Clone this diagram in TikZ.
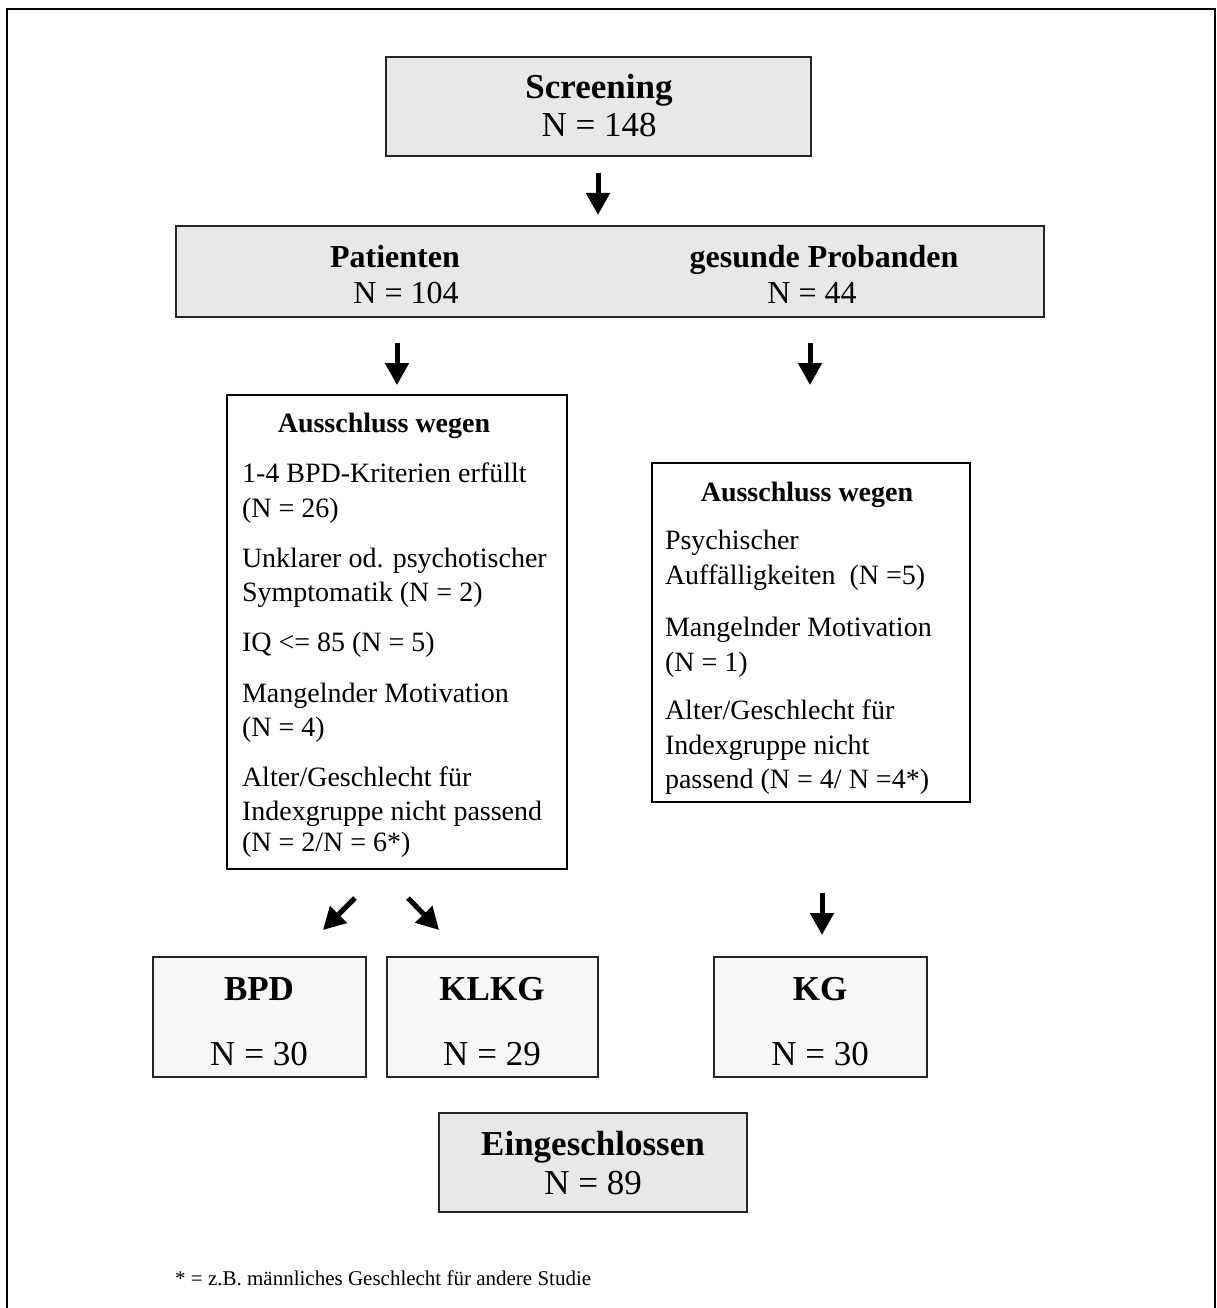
\documentclass[tikz,border=0pt]{standalone}
\usepackage{fontspec}
\setmainfont{Liberation Serif}
\usetikzlibrary{arrows.meta}
\definecolor{boxgrey}{HTML}{E8E8E8}
\definecolor{boxlight}{HTML}{F7F7F7}
\begin{document}
\begin{tikzpicture}[x=1pt,y=-1pt,
  box/.style={draw=black!85, line width=1.4pt, anchor=north west, inner sep=0pt, outer sep=0pt},
  txt/.style={inner sep=0pt, outer sep=0pt, anchor=base},
  ltxt/.style={inner sep=0pt, outer sep=0pt, anchor=base west, font=\fontsize{28}{35}\selectfont},
  big/.style={font=\fontsize{35}{42}\selectfont},
  bigb/.style={font=\fontsize{35}{42}\selectfont\bfseries},
  mid/.style={font=\fontsize{32}{38}\selectfont},
  midb/.style={font=\fontsize{32}{38}\selectfont\bfseries},
  headb/.style={font=\fontsize{28}{35}\selectfont\bfseries},
  fatarrow/.style={line width=5pt, -{Triangle[width=23pt,length=22pt]}}
]
\useasboundingbox (0,0) rectangle (1217,1308);

% outer frame, open at the bottom
\draw[line width=2pt, line join=miter] (7,1308) -- (7,9) -- (1215,9) -- (1215,1308);

% boxes
\node[box, fill=boxgrey, minimum width=425pt, minimum height=99pt] (screen) at (386,57) {};
\node[box, fill=boxgrey, minimum width=868pt, minimum height=91pt] (groups) at (176,226) {};
\node[box, fill=white, draw=black, minimum width=340pt, minimum height=474pt] (exL) at (227,395) {};
\node[box, fill=white, draw=black, minimum width=318pt, minimum height=339pt] (exR) at (652,463) {};
\node[box, fill=boxlight, minimum width=213pt, minimum height=120pt] (bpd) at (153,957) {};
\node[box, fill=boxlight, minimum width=211pt, minimum height=120pt] (klkg) at (387,957) {};
\node[box, fill=boxlight, minimum width=213pt, minimum height=120pt] (kg) at (714,957) {};
\node[box, fill=boxgrey, minimum width=308pt, minimum height=99pt] (incl) at (439,1113) {};

% screening
\node[txt, bigb] (screenT) at (599,99) {Screening};
\node[txt, big] (screenN) at (599,137) {N = 148};

% groups
\node[txt, midb] (patT) at (395,267) {Patienten};
\node[txt, mid] (patN) at (406,303) {N = 104};
\node[txt, midb] (gesT) at (824,267) {gesunde Probanden};
\node[txt, mid] (gesN) at (812,303) {N = 44};

% exclusions, patients
\node[txt, headb] (exLT) at (384,432) {Ausschluss wegen};
\node[ltxt] (l1) at (242,482) {1-4 BPD-Kriterien erfüllt};
\node[ltxt] (l2) at (242,517) {(N = 26)};
\node[ltxt] (l3) at (242,567) {Unklarer od. psychotischer};
\node[ltxt] (l4) at (242,601) {Symptomatik (N = 2)};
\node[ltxt] (l5) at (242,651) {IQ <= 85 (N = 5)};
\node[ltxt] (l6) at (242,702) {Mangelnder Motivation};
\node[ltxt] (l7) at (242,736) {(N = 4)};
\node[ltxt] (l8) at (242,786) {Alter/Geschlecht für};
\node[ltxt] (l9) at (242,820) {Indexgruppe nicht passend};
\node[ltxt] (l10) at (242,851) {(N = 2/N = 6*)};

% exclusions, healthy controls
\node[txt, headb] (exRT) at (807,501) {Ausschluss wegen};
\node[ltxt] (r1) at (665,549) {Psychischer};
\node[ltxt] (r2) at (665,584) {Auffälligkeiten\ \ (N =5)};
\node[ltxt] (r3) at (665,636) {Mangelnder Motivation};
\node[ltxt] (r4) at (665,671) {(N = 1)};
\node[ltxt] (r5) at (665,719) {Alter/Geschlecht für};
\node[ltxt] (r6) at (665,754) {Indexgruppe nicht};
\node[ltxt] (r7) at (665,788) {passend (N = 4/ N =4*)};

% final groups
\node[txt, bigb] (bpdT) at (259,1000) {BPD};
\node[txt, big] (bpdN) at (259,1065) {N = 30};
\node[txt, bigb] (klkgT) at (492,1000) {KLKG};
\node[txt, big] (klkgN) at (492,1065) {N = 29};
\node[txt, bigb] (kgT) at (820,1000) {KG};
\node[txt, big] (kgN) at (820,1065) {N = 30};

% included
\node[txt, bigb] (inclT) at (593,1155) {Eingeschlossen};
\node[txt, big] (inclN) at (593,1194) {N = 89};

% footnote
\node[inner sep=0pt, anchor=base west, font=\fontsize{21}{25}\selectfont] (note) at (175,1285) {* = z.B. männliches Geschlecht für andere Studie};

% arrows
\coordinate (a1s) at (598,173); \coordinate (a1e) at (598,215);
\coordinate (a2s) at (397,343); \coordinate (a2e) at (397,385);
\coordinate (a3s) at (810,343); \coordinate (a3e) at (810,385);
\coordinate (a4s) at (355,898); \coordinate (a4e) at (323,930);
\coordinate (a5s) at (408,898); \coordinate (a5e) at (439,930);
\coordinate (a6s) at (822,893); \coordinate (a6e) at (822,935);
\draw[fatarrow] (a1s) -- (a1e);
\draw[fatarrow] (a2s) -- (a2e);
\draw[fatarrow] (a3s) -- (a3e);
\draw[fatarrow] (a4s) -- (a4e);
\draw[fatarrow] (a5s) -- (a5e);
\draw[fatarrow] (a6s) -- (a6e);
\end{tikzpicture}
\end{document}
